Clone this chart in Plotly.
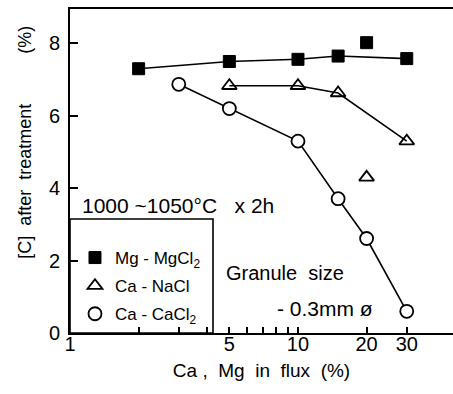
import plotly.graph_objects as go

# Data
mg_x = [2, 5, 10, 15, 30]
mg_y = [7.3, 7.5, 7.56, 7.65, 7.58]
mg_extra_x = [20]
mg_extra_y = [8.02]

nacl_x = [5, 10, 15, 30]
nacl_y = [6.83, 6.83, 6.63, 5.3]
nacl_extra_x = [20]
nacl_extra_y = [4.3]

cacl_x = [3, 5, 10, 15, 20, 30]
cacl_y = [6.87, 6.2, 5.3, 3.71, 2.61, 0.6]

x_tickvals = [1, 5, 10, 20, 30]
x_ticktext = ["1", "5", "10", "20", "30"]
x_minor = [2, 3, 4, 6, 7, 8, 9]
y_tickvals = [0, 2, 4, 6, 8]

FONT = "Liberation Sans"
BLACK = "black"

sq = dict(symbol="square", size=12, color=BLACK, line=dict(color=BLACK, width=1))
tri = dict(symbol="triangle-up-open", size=13, color=BLACK, line=dict(color=BLACK, width=1.8))
cir = dict(symbol="circle", size=13, color="white", line=dict(color=BLACK, width=1.8))
ln = dict(color=BLACK, width=1.6)

fig = go.Figure()

# connecting lines (no legend)
fig.add_trace(go.Scatter(x=mg_x, y=mg_y, mode="lines", line=ln, showlegend=False))
fig.add_trace(go.Scatter(x=nacl_x, y=nacl_y, mode="lines", line=ln, showlegend=False))
fig.add_trace(go.Scatter(x=cacl_x, y=cacl_y, mode="lines", line=ln, showlegend=False))

# markers
fig.add_trace(go.Scatter(x=mg_x + mg_extra_x, y=mg_y + mg_extra_y, mode="markers",
                         name="Mg - MgCl<sub>2</sub>", legendgroup="a", marker=sq))
fig.add_trace(go.Scatter(x=nacl_x + nacl_extra_x, y=nacl_y + nacl_extra_y, mode="markers",
                         name="Ca - NaCl", legendgroup="b", marker=tri))
fig.add_trace(go.Scatter(x=cacl_x, y=cacl_y, mode="markers",
                         name="Ca - CaCl<sub>2</sub>", legendgroup="c", marker=cir))

fig.update_layout(
    width=453, height=394,
    margin=dict(l=70, r=0, t=9, b=61),
    paper_bgcolor="white", plot_bgcolor="white",
    font=dict(family=FONT, color=BLACK, size=17),
    showlegend=True,
    legend=dict(
        x=0.013, xanchor="left", y=0.287, yanchor="top",
        bgcolor="rgba(0,0,0,0)", borderwidth=0,
        font=dict(family=FONT, size=17, color=BLACK),
        tracegroupgap=3,
    ),
    xaxis=dict(
        type="log", range=[0, 1.68],
        showline=True, linecolor=BLACK, linewidth=2, mirror=True,
        showgrid=False, zeroline=False,
        ticks="inside", ticklen=6, tickwidth=1.5, tickcolor=BLACK,
        tickmode="array", tickvals=x_tickvals, ticktext=x_ticktext,
        tickfont=dict(family=FONT, size=20, color=BLACK),
        ticklabelstandoff=-8,
        minor=dict(tickmode="array", tickvals=x_minor, ticks="inside",
                   ticklen=6, tickwidth=1.5, tickcolor=BLACK, showgrid=False),
        title=dict(text="Ca ,  Mg  in  flux  (%)", font=dict(family=FONT, size=19, color=BLACK),
                   standoff=10),
    ),
    yaxis=dict(
        range=[0, 8.95],
        showline=True, linecolor=BLACK, linewidth=2,
        showgrid=False, zeroline=False,
        ticks="inside", ticklen=8, tickwidth=1.5, tickcolor=BLACK,
        tickmode="array", tickvals=y_tickvals,
        tickfont=dict(family=FONT, size=20, color=BLACK),
        ticklabelstandoff=4,
    ),
)

# legend frame
fig.add_shape(type="rect", xref="paper", yref="paper",
              x0=0, x1=(213 - 70) / 383, y0=0, y1=(333 - 219) / 324,
              line=dict(color=BLACK, width=1.6), fillcolor="rgba(0,0,0,0)", layer="above")

NB = "\u00a0"
fig.add_annotation(
    xref="paper", yref="paper", x=-0.1175, y=0.59, showarrow=False,
    textangle=-90, xanchor="center", yanchor="middle",
    text="[C]" + NB * 2 + "after" + NB * 2 + "treatment" + NB * 10 + "(%)",
    font=dict(family=FONT, size=18, color=BLACK),
)
fig.add_annotation(
    xref="paper", yref="paper", x=0.026, y=0.395, showarrow=False,
    xanchor="left", yanchor="middle",
    text="1000" + NB + "~1050°C" + NB * 3 + "x" + NB + "2h",
    font=dict(family=FONT, size=21, color=BLACK),
)
fig.add_annotation(
    xref="paper", yref="paper", x=0.402, y=0.185, showarrow=False,
    xanchor="left", yanchor="middle",
    text="Granule" + NB * 2 + "size",
    font=dict(family=FONT, size=20, color=BLACK),
)
fig.add_annotation(
    xref="paper", yref="paper", x=0.535, y=0.077, showarrow=False,
    xanchor="left", yanchor="middle",
    text="-" + NB + "0.3mm" + NB + "ø",
    font=dict(family=FONT, size=21, color=BLACK),
)

fig.write_html("out.html")
